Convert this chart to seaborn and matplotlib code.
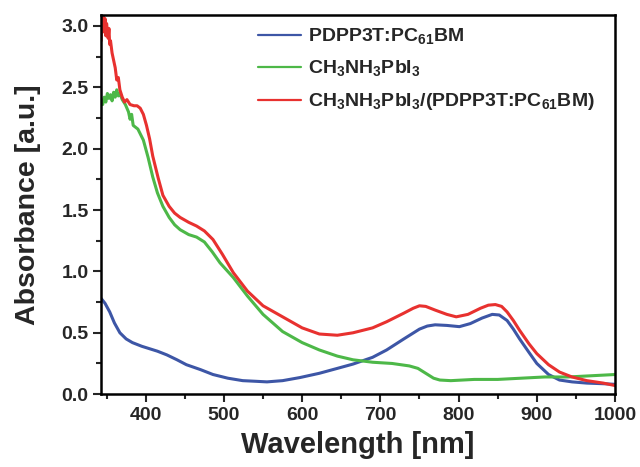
import numpy as np
import pandas as pd
import matplotlib
matplotlib.use("Agg")
import matplotlib.pyplot as plt
from matplotlib.ticker import MultipleLocator
import seaborn as sns

# PDPP3T:PC61BM
wl_blue = [343, 348, 354, 360, 367, 375, 383, 395, 405, 415, 427, 440, 452, 470, 486, 505,
           524, 540, 555, 575, 597, 622, 645, 665, 690, 708, 730, 750, 760, 770, 785, 801,
           815, 830, 843, 852, 862, 870, 878, 890, 900, 915, 929, 945, 964, 985, 1000]
abs_blue = [0.78, 0.74, 0.67, 0.58, 0.50, 0.45, 0.42, 0.39, 0.37, 0.35, 0.32, 0.28, 0.24,
            0.20, 0.16, 0.13, 0.11, 0.105, 0.10, 0.11, 0.135, 0.17, 0.21, 0.245, 0.30, 0.36,
            0.45, 0.53, 0.555, 0.565, 0.56, 0.55, 0.575, 0.62, 0.65, 0.645, 0.60, 0.53, 0.45,
            0.34, 0.25, 0.16, 0.115, 0.10, 0.09, 0.085, 0.08]

# CH3NH3PbI3
wl_green = [343, 345, 347, 349, 351, 353, 355, 357, 359, 361, 363, 365, 367, 370, 374, 378,
            380, 382, 384, 390, 397, 403, 409, 415, 422, 430, 437, 444, 455, 465, 475,
            485, 495, 512, 530, 550, 575, 600, 622, 645, 665, 690, 715, 737, 748, 758,
            768, 776, 790, 820, 850, 880, 910, 940, 970, 1000]
abs_green = [2.40, 2.36, 2.42, 2.38, 2.45, 2.41, 2.44, 2.39, 2.46, 2.42, 2.48, 2.43, 2.45,
             2.40, 2.36, 2.30, 2.24, 2.28, 2.19, 2.16, 2.07, 1.93, 1.77, 1.64, 1.53, 1.44,
             1.38, 1.34, 1.30, 1.28, 1.24, 1.16, 1.07, 0.95, 0.80, 0.65, 0.51, 0.42, 0.36,
             0.31, 0.28, 0.26, 0.25, 0.23, 0.21, 0.17, 0.13, 0.115, 0.11, 0.12, 0.12, 0.13,
             0.14, 0.14, 0.15, 0.16]

# CH3NH3PbI3/(PDPP3T:PC61BM)
wl_red = [343, 344, 345, 346, 347, 348, 349, 350, 351, 352, 353, 354, 355, 357, 359, 361,
          363, 365, 367, 370, 373, 376, 380, 385, 389, 393, 397, 401, 405, 409, 416, 422,
          430, 437, 444, 455, 465, 475, 486, 498, 512, 530, 550, 575, 600, 622, 645, 665,
          690, 708, 730, 742, 750, 758, 770, 785, 797, 812, 828, 838, 847, 855, 862, 870,
          878, 890, 900, 915, 929, 945, 964, 985, 1000]
abs_red = [2.88, 3.05, 2.95, 3.09, 2.98, 3.06, 2.92, 3.02, 2.96, 2.90, 2.98, 2.85, 2.88,
           2.78, 2.72, 2.66, 2.56, 2.58, 2.48, 2.42, 2.38, 2.40, 2.36, 2.35, 2.35, 2.33,
           2.28, 2.19, 2.08, 1.94, 1.76, 1.62, 1.53, 1.475, 1.44, 1.40, 1.37, 1.33, 1.26,
           1.14, 0.99, 0.84, 0.72, 0.63, 0.54, 0.49, 0.48, 0.50, 0.54, 0.59, 0.66, 0.70,
           0.72, 0.715, 0.685, 0.65, 0.63, 0.65, 0.70, 0.725, 0.73, 0.715, 0.67, 0.60,
           0.52, 0.41, 0.33, 0.24, 0.18, 0.14, 0.11, 0.09, 0.07]

labels = [r"PDPP3T:PC$_{\mathbf{61}}$BM",
          r"CH$_{\mathbf{3}}$NH$_{\mathbf{3}}$PbI$_{\mathbf{3}}$",
          r"CH$_{\mathbf{3}}$NH$_{\mathbf{3}}$PbI$_{\mathbf{3}}$/(PDPP3T:PC$_{\mathbf{61}}$BM)"]
colors = ["#3d56a6", "#4db848", "#e8312f"]

sns.set_style("ticks")
plt.rcParams["font.family"] = ["Liberation Sans", "DejaVu Sans"]
plt.rcParams["font.weight"] = "bold"
plt.rcParams["mathtext.fontset"] = "custom"
plt.rcParams["mathtext.bf"] = "Liberation Sans:bold"
plt.rcParams["mathtext.rm"] = "Liberation Sans:bold"

fig = plt.figure(figsize=(6.4, 4.67), dpi=100)
ax = fig.add_axes([0.158, 0.156, 0.803, 0.812])

series = [(wl_blue, abs_blue), (wl_green, abs_green), (wl_red, abs_red)]
for (x, y), lab, c in zip(series, labels, colors):
    df = pd.DataFrame({"wl": x, "abs": y})
    sns.lineplot(data=df, x="wl", y="abs", ax=ax, color=c, lw=2.2, label=lab,
                 estimator=None, sort=True)

ax.set_xlim(343, 1000)
ax.set_ylim(0, 3.09)
ax.xaxis.set_major_locator(MultipleLocator(100))
ax.xaxis.set_minor_locator(MultipleLocator(50))
ax.yaxis.set_minor_locator(MultipleLocator(0.25))
ax.set_yticks(np.arange(0, 3.01, 0.5))
ax.set_yticklabels([f"{v:.1f}" for v in np.arange(0, 3.01, 0.5)])
ax.tick_params(axis="both", which="major", direction="out", length=6, width=1.5,
               labelsize=14, pad=3)
ax.tick_params(axis="both", which="minor", direction="out", length=3.5, width=1.5)
for s in ax.spines.values():
    s.set_linewidth(1.8)
    s.set_color("black")

ax.set_xlabel("Wavelength [nm]", fontsize=21, fontweight="bold", labelpad=5)
ax.set_ylabel("Absorbance [a.u.]", fontsize=20.5, fontweight="bold", labelpad=15)

leg = ax.legend(loc="upper left", bbox_to_anchor=(0.283, 1.0), frameon=False,
                fontsize=14, handlelength=2.2, handletextpad=0.35, labelspacing=0.62,
                borderaxespad=0.2)
for h in leg.get_lines():
    h.set_linewidth(1.6)

fig.savefig("out.png", dpi=100)
